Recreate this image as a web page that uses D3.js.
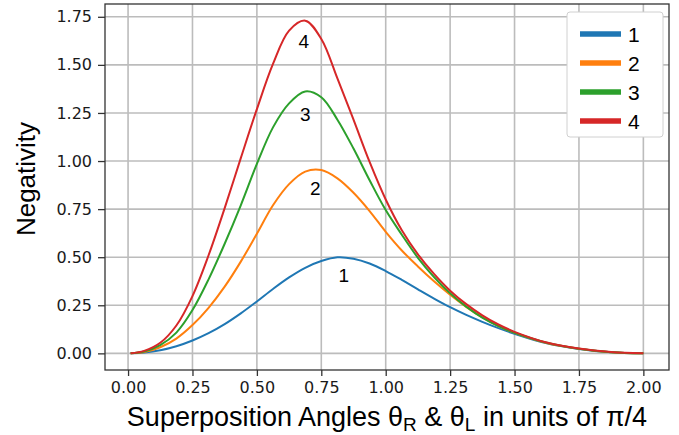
<!DOCTYPE html>
<html>
<head>
<meta charset="utf-8">
<script src="https://cdn.jsdelivr.net/npm/d3@7"></script>
<style>
  html, body { margin: 0; padding: 0; background: #ffffff; }
  svg { display: block; }
</style>
</head>
<body>
<script>
// angles in units of pi/4
const angles = [0.01, 0.0625, 0.125, 0.1875, 0.25, 0.3125, 0.375, 0.4375, 0.5, 0.5625,
  0.625, 0.6875, 0.75, 0.8125, 0.875, 0.9375, 1.0, 1.0625, 1.125, 1.1875,
  1.25, 1.3125, 1.375, 1.4375, 1.5, 1.625, 1.75, 1.875, 2.0];

const neg1 = [0, 0.004, 0.016, 0.037, 0.067, 0.105, 0.152, 0.208, 0.27, 0.335,
  0.395, 0.445, 0.48, 0.4995, 0.492, 0.467, 0.428, 0.382, 0.333, 0.285,
  0.24, 0.2, 0.164, 0.131, 0.102, 0.052, 0.023, 0.006, 0];
const neg2 = [0, 0.007, 0.032, 0.077, 0.147, 0.237, 0.347, 0.477, 0.622, 0.77,
  0.88, 0.945, 0.953, 0.91, 0.835, 0.74, 0.632, 0.535, 0.452, 0.375,
  0.305, 0.242, 0.187, 0.142, 0.107, 0.054, 0.024, 0.006, 0];
const neg3 = [0, 0.01, 0.043, 0.108, 0.225, 0.385, 0.57, 0.77, 0.985, 1.175,
  1.3, 1.362, 1.332, 1.215, 1.065, 0.9, 0.745, 0.617, 0.497, 0.397,
  0.312, 0.243, 0.186, 0.142, 0.107, 0.055, 0.024, 0.006, 0];
const neg4 = [0, 0.013, 0.055, 0.145, 0.298, 0.51, 0.755, 1.015, 1.27, 1.505,
  1.678, 1.73, 1.635, 1.43, 1.215, 0.995, 0.8, 0.64, 0.515, 0.413,
  0.326, 0.256, 0.198, 0.15, 0.112, 0.056, 0.025, 0.007, 0];

const seriesNames = ["1", "2", "3", "4"];
const seriesValues = [neg1, neg2, neg3, neg4];
const seriesColors = ["#1f77b4", "#ff7f0e", "#2ca02c", "#d62728"];

// in-plot annotations (data coords)
const noteX = [0.837, 0.727, 0.688, 0.682];
const noteY = [0.405, 0.857, 1.243, 1.62];

const xTicks = [0, 0.25, 0.5, 0.75, 1.0, 1.25, 1.5, 1.75, 2.0];
const yTicks = [0, 0.25, 0.5, 0.75, 1.0, 1.25, 1.5, 1.75];

const width = 679;
const height = 435;
const margin = { top: 4, right: 10, bottom: 65, left: 105 };
const innerW = width - margin.left - margin.right;
const innerH = height - margin.top - margin.bottom;

const svg = d3.select("body").append("svg")
  .attr("width", width)
  .attr("height", height);

const g = svg.append("g")
  .attr("transform", `translate(${margin.left},${margin.top})`);

const xPad = (2.0 - 0.01) * 0.05;
const yMax = d3.max(seriesValues.flat());
const yPad = yMax * 0.05;

const x = d3.scaleLinear()
  .domain([0.01 - xPad, 2.0 + xPad])
  .range([0, innerW]);

const y = d3.scaleLinear()
  .domain([-yPad, yMax + yPad])
  .range([innerH, 0]);

// grid
const grid = g.append("g");
xTicks.forEach(t => {
  grid.append("line")
    .attr("x1", x(t)).attr("x2", x(t))
    .attr("y1", 0).attr("y2", innerH)
    .attr("stroke", "#bcbcbc")
    .attr("stroke-width", 1.6);
});
yTicks.forEach(t => {
  grid.append("line")
    .attr("x1", 0).attr("x2", innerW)
    .attr("y1", y(t)).attr("y2", y(t))
    .attr("stroke", "#bcbcbc")
    .attr("stroke-width", 1.6);
});

// curves
const line = d3.line()
  .x((d, i) => x(angles[i]))
  .y(d => y(d))
  .curve(d3.curveCatmullRom.alpha(0.5));

seriesValues.forEach((vals, k) => {
  g.append("path")
    .datum(vals)
    .attr("d", line)
    .attr("fill", "none")
    .attr("stroke", seriesColors[k])
    .attr("stroke-width", 2);
});

// annotations
seriesNames.forEach((name, k) => {
  g.append("text")
    .attr("x", x(noteX[k]))
    .attr("y", y(noteY[k]))
    .attr("text-anchor", "middle")
    .attr("dominant-baseline", "central")
    .style("font-family", "'Liberation Sans', Arial, sans-serif")
    .style("font-size", "19px")
    .attr("fill", "#000")
    .text(name);
});

// axes
const xAxis = d3.axisBottom(x)
  .tickValues(xTicks)
  .tickFormat(d3.format(".2f"))
  .tickSize(6)
  .tickPadding(6);

const yAxis = d3.axisLeft(y)
  .tickValues(yTicks)
  .tickFormat(d3.format(".2f"))
  .tickSize(7)
  .tickPadding(6);

g.append("g")
  .attr("transform", `translate(0,${innerH})`)
  .call(xAxis)
  .call(sel => sel.select(".domain").remove())
  .call(sel => sel.selectAll("line").attr("stroke", "#333").attr("stroke-width", 1.3))
  .call(sel => sel.selectAll("text")
    .style("font-family", "'DejaVu Sans', sans-serif")
    .style("font-size", "16px")
    .attr("fill", "#1a1a1a"));

g.append("g")
  .call(yAxis)
  .call(sel => sel.select(".domain").remove())
  .call(sel => sel.selectAll("line").attr("stroke", "#333").attr("stroke-width", 1.3))
  .call(sel => sel.selectAll("text")
    .style("font-family", "'DejaVu Sans', sans-serif")
    .style("font-size", "16px")
    .attr("fill", "#1a1a1a"));

// frame
g.append("rect")
  .attr("x", 0).attr("y", 0)
  .attr("width", innerW).attr("height", innerH)
  .attr("fill", "none")
  .attr("stroke", "#333")
  .attr("stroke-width", 1.3);

// axis labels
svg.append("text")
  .attr("x", margin.left + innerW / 2)
  .attr("y", 426)
  .attr("text-anchor", "middle")
  .style("font-family", "'Liberation Sans', Arial, sans-serif")
  .style("font-size", "27px")
  .attr("fill", "#000")
  .html("Superposition Angles θ<tspan baseline-shift='-25%' font-size='19px'>R</tspan> &amp; θ<tspan baseline-shift='-25%' font-size='19px'>L</tspan> in units of π/4");

svg.append("text")
  .attr("transform", "translate(35,179) rotate(-90)")
  .attr("text-anchor", "middle")
  .style("font-family", "'Liberation Sans', Arial, sans-serif")
  .style("font-size", "26px")
  .attr("fill", "#000")
  .text("Negativity");

// legend
const legend = svg.append("g").attr("transform", "translate(567,12)");
legend.append("rect")
  .attr("width", 96).attr("height", 125)
  .attr("rx", 3)
  .attr("fill", "#ffffff")
  .attr("stroke", "#d0d0d0")
  .attr("stroke-width", 1);

seriesNames.forEach((name, k) => {
  const ly = 22 + k * 29;
  legend.append("line")
    .attr("x1", 13).attr("x2", 54)
    .attr("y1", ly).attr("y2", ly)
    .attr("stroke", seriesColors[k])
    .attr("stroke-width", 5.5);
  legend.append("text")
    .attr("x", 61)
    .attr("y", ly)
    .attr("dominant-baseline", "central")
    .style("font-family", "'Liberation Sans', Arial, sans-serif")
    .style("font-size", "21px")
    .attr("fill", "#000")
    .text(name);
});
</script>
</body>
</html>
